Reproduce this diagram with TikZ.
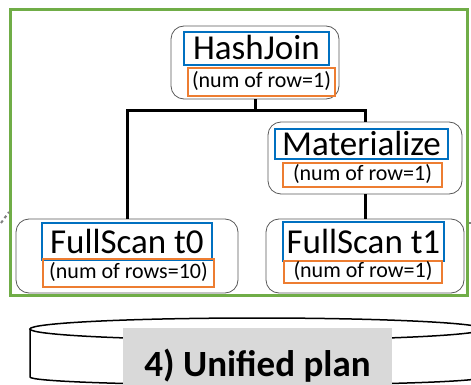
\documentclass[tikz,border=0pt]{standalone}
\usepackage{fontspec}
\setmainfont{Carlito}
\usetikzlibrary{positioning}
\definecolor{opblue}{HTML}{0070C0}
\definecolor{roworange}{HTML}{ED7D31}
\definecolor{plangreen}{HTML}{70AD47}
\definecolor{labelgray}{HTML}{D9D9D9}

\begin{document}
\begin{tikzpicture}[x=1pt, y=-1pt, every node/.style={inner sep=0pt},
  opbox/.style={draw=black!65, line width=0.8pt, rounded corners=13pt, fill=white},
  opname/.style={draw=opblue, line width=2pt, font=\fontsize{35}{35}\selectfont, text height=26pt, text depth=3pt},
  oprows/.style={draw=roworange, line width=2pt, font=\fontsize{22}{22}\selectfont, text height=15pt, text depth=5pt},
  link/.style={line width=3pt}]
\useasboundingbox (0,0) rectangle (471,385);
\draw[plangreen, line width=2.5pt] (10.5,9.5) rectangle (467.5,295.5);

\node[opbox, minimum width=168pt, minimum height=73pt] (join) at (255,62.5) {};
\node[opname, minimum width=145pt, minimum height=33pt] (joinop) at (256.5,48.3) {HashJoin};
\node[oprows, minimum width=147pt, minimum height=28pt] (joinrows) at (261.5,82.2) {(num of row=1)};

\node[opbox, minimum width=194pt, minimum height=72pt] (mat) at (365,158) {};
\node[opname, minimum width=173pt, minimum height=30pt] (matop) at (361.5,144) {Materialize};
\node[oprows, minimum width=159pt, minimum height=24pt] (matrows) at (362.5,175) {(num of row=1)};

\node[opbox, minimum width=222pt, minimum height=74pt] (scan0) at (127,256) {};
\node[opname, minimum width=170pt, minimum height=37pt] (scan0op) at (127,241.5) {FullScan t0};
\node[oprows, minimum width=171pt, minimum height=28pt] (scan0rows) at (128.5,273) {(num of rows=10)};

\node[opbox, minimum width=198pt, minimum height=74pt] (scan1) at (365,256) {};
\node[opname, minimum width=161pt, minimum height=39pt] (scan1op) at (363.5,241.5) {FullScan t1};
\node[oprows, minimum width=158pt, minimum height=22pt] (scan1rows) at (363,272) {(num of row=1)};

\coordinate (split) at (255,111);
\draw[link] (join.south) -- (split);
\draw[link] (scan0.north) |- (split) -| (mat.north);
\draw[link] (mat.south) -- (scan1.north);

\coordinate (tailL) at (1,223);
\coordinate (headL) at (9,212);
\coordinate (tailR) at (469,223);
\coordinate (headR) at (471,223);
\draw[gray, dashed, line width=2pt] (tailL) -- (headL);
\draw[gray, line width=2pt] (tailR) -- (headR);

\coordinate (disk) at (257,329);
\draw[line width=1.5pt, fill=white] (30,329) -- (30,377) arc[start angle=180, end angle=360, x radius=227pt, y radius=8pt] -- (484,329);
\draw[line width=1.5pt, fill=white] (disk) ellipse[x radius=227pt, y radius=11pt];
\node[fill=labelgray, minimum width=269pt, text height=48pt, text depth=12pt, anchor=north, font=\bfseries\fontsize{37}{37}\selectfont] (plan) at (257.5,328) {4) Unified plan};
\end{tikzpicture}
\end{document}
